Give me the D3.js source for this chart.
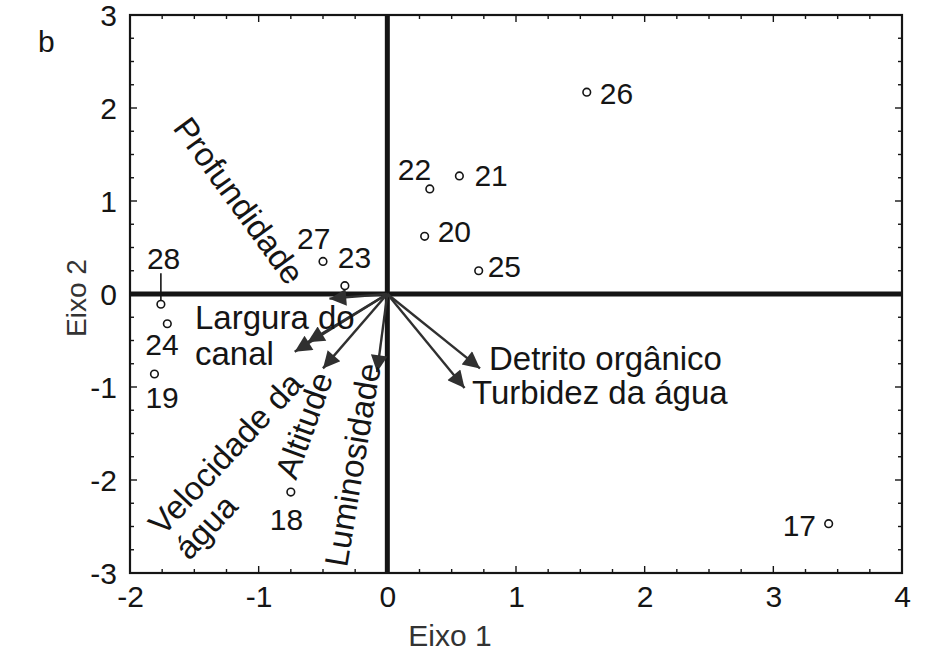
<!DOCTYPE html>
<html>
<head>
<meta charset="utf-8">
<script src="https://cdn.jsdelivr.net/npm/d3@7"></script>
<style>
  html, body { margin: 0; padding: 0; background: #fff; }
  svg { display: block; font-family: "Liberation Sans", Arial, sans-serif; }
</style>
</head>
<body>
<svg id="chart" width="925" height="653"></svg>
<script>
// Sampling sites (scores on the first two ordination axes)
const siteNames = ["17", "18", "19", "20", "21", "22", "23", "24", "25", "26", "27", "28"];
const siteAxis1 = [3.43, -0.75, -1.81, 0.29, 0.56, 0.33, -0.33, -1.71, 0.71, 1.55, -0.50, -1.76];
const siteAxis2 = [-2.47, -2.13, -0.86, 0.62, 1.27, 1.13, 0.09, -0.32, 0.25, 2.17, 0.35, -0.11];

// Environmental variables (vector end points)
const varNames = ["Profundidade", "Largura do canal", "Velocidade da água", "Altitude",
                  "Luminosidade", "Detrito orgânico", "Turbidez da água"];
const varAxis1 = [-0.45, -0.62, -0.72, -0.50, -0.08, 0.72, 0.60];
const varAxis2 = [-0.05, -0.52, -0.62, -0.80, -0.84, -0.80, -1.01];

// Axis ticks
const xTicks = [-2, -1, 0, 1, 2, 3, 4];
const yTicks = [-3, -2, -1, 0, 1, 2, 3];

// ---- layout ----
const svg = d3.select("#chart");
const pL = 130, pR = 902, pT = 15, pB = 573;
const x = d3.scaleLinear().domain([-2, 4]).range([pL, pR]);
const y = d3.scaleLinear().domain([-3, 3]).range([pB, pT]);
const ink = "#151515";
const fs = 30;      // tick and site labels
const fsVar = 33;   // variable labels

// minor ticks every 0.25, pointing inward on all four sides
const minorX = d3.range(-2, 4.001, 0.25);
const minorY = d3.range(-3, 3.001, 0.25);
const tickG = svg.append("g").attr("stroke", ink).attr("stroke-width", 1.4);
minorX.forEach(v => {
  const len = Number.isInteger(v) ? 7 : 4;
  tickG.append("line").attr("x1", x(v)).attr("x2", x(v)).attr("y1", pB).attr("y2", pB - len);
  tickG.append("line").attr("x1", x(v)).attr("x2", x(v)).attr("y1", pT).attr("y2", pT + len);
});
minorY.forEach(v => {
  const len = Number.isInteger(v) ? 7 : 4;
  tickG.append("line").attr("y1", y(v)).attr("y2", y(v)).attr("x1", pL).attr("x2", pL + len);
  tickG.append("line").attr("y1", y(v)).attr("y2", y(v)).attr("x1", pR).attr("x2", pR - len);
});

// tick labels through D3 axes (tick lines hidden; drawn above)
const fmt = d => String(d);
const xAxis = svg.append("g").attr("transform", `translate(0,${pB})`)
  .call(d3.axisBottom(x).tickValues(xTicks).tickSize(0).tickPadding(13).tickFormat(fmt));
const yAxis = svg.append("g").attr("transform", `translate(${pL},0)`)
  .call(d3.axisLeft(y).tickValues(yTicks).tickSize(0).tickPadding(13).tickFormat(fmt));
[xAxis, yAxis].forEach(g => {
  g.select(".domain").remove();
  g.selectAll("text").attr("font-size", fs).attr("fill", ink)
    .attr("font-family", "'Liberation Sans', Arial, sans-serif");
});
yAxis.selectAll("text").attr("dy", "0.35em");

// frame
svg.append("rect").attr("x", pL).attr("y", pT).attr("width", pR - pL).attr("height", pB - pT)
  .attr("fill", "none").attr("stroke", ink).attr("stroke-width", 2.2);

// zero lines
svg.append("line").attr("x1", pL).attr("x2", pR).attr("y1", y(0)).attr("y2", y(0))
  .attr("stroke", ink).attr("stroke-width", 5);
svg.append("line").attr("x1", x(0)).attr("x2", x(0)).attr("y1", pT).attr("y2", pB)
  .attr("stroke", ink).attr("stroke-width", 5);

// axis titles and panel letter
svg.append("text").attr("x", 450).attr("y", 646).attr("text-anchor", "middle")
  .attr("font-size", fs).attr("fill", "#333").text("Eixo 1");
svg.append("text").attr("transform", "translate(86,298) rotate(-90)").attr("text-anchor", "middle")
  .attr("font-size", 28).attr("fill", "#333").text("Eixo 2");
svg.append("text").attr("x", 38).attr("y", 52).attr("font-size", fs).attr("fill", ink).text("b");

// environmental vectors
const arrowCol = "#303030";
svg.append("defs").append("marker").attr("id", "head")
  .attr("viewBox", "0 0 10 10").attr("refX", 10).attr("refY", 5)
  .attr("markerWidth", 8).attr("markerHeight", 7).attr("markerUnits", "strokeWidth")
  .attr("orient", "auto")
  .append("path").attr("d", "M0,0 L10,5 L0,10 Z").attr("fill", arrowCol);

svg.append("g").selectAll("line").data(varNames).join("line")
  .attr("x1", x(0)).attr("y1", y(0))
  .attr("x2", (d, i) => x(varAxis1[i])).attr("y2", (d, i) => y(varAxis2[i]))
  .attr("stroke", arrowCol).attr("stroke-width", 2.4)
  .attr("marker-end", "url(#head)");

// variable labels: text lines, anchor point and rotation
const varLabelPlace = {
  "Profundidade":       { lines: ["Profundidade"], x: 172, y: 128, rot: 54 },
  "Largura do canal":   { lines: ["Largura do", "canal"], x: 195, y: 329, rot: 0 },
  "Velocidade da água": { lines: ["Velocidade da", "água"], x: 163, y: 537, rot: -47 },
  "Altitude":           { lines: ["Altitude"], x: 296, y: 481, rot: -70 },
  "Luminosidade":       { lines: ["Luminosidade"], x: 347, y: 568, rot: -80.5 },
  "Detrito orgânico":   { lines: ["Detrito orgânico"], x: 489, y: 370, rot: 0 },
  "Turbidez da água":   { lines: ["Turbidez da água"], x: 472, y: 404, rot: 0 }
};
varNames.forEach(name => {
  const p = varLabelPlace[name];
  const t = svg.append("text").attr("transform", `translate(${p.x},${p.y}) rotate(${p.rot})`)
    .attr("font-size", fsVar).attr("fill", ink);
  p.lines.forEach((ln, k) => t.append("tspan").attr("x", 0).attr("dy", k === 0 ? 0 : 36).text(ln));
});

// site points
svg.append("g").selectAll("circle").data(siteNames).join("circle")
  .attr("cx", (d, i) => x(siteAxis1[i])).attr("cy", (d, i) => y(siteAxis2[i]))
  .attr("r", 3.8).attr("fill", "#fff").attr("stroke", ink).attr("stroke-width", 1.6);

// site label offsets from each point (dx, dy to text baseline start)
const siteLabelOffset = {
  "17": [-46, 12], "18": [-21, 38], "19": [-9, 34], "20": [13, 6], "21": [15, 10],
  "22": [-32, -9], "23": [-7, -18], "24": [-22, 31], "25": [9, 6], "26": [13, 12],
  "27": [-26, -12], "28": [-14, -35]
};
svg.append("g").selectAll("text").data(siteNames).join("text")
  .attr("x", (d, i) => x(siteAxis1[i]) + siteLabelOffset[d][0])
  .attr("y", (d, i) => y(siteAxis2[i]) + siteLabelOffset[d][1])
  .attr("font-size", fs).attr("fill", ink).text(d => d);

// leader line for site 28
const i28 = siteNames.indexOf("28");
svg.append("line").attr("x1", x(siteAxis1[i28])).attr("x2", x(siteAxis1[i28]))
  .attr("y1", y(siteAxis2[i28]) - 4).attr("y2", y(siteAxis2[i28]) - 31)
  .attr("stroke", ink).attr("stroke-width", 1.6);
</script>
</body>
</html>
